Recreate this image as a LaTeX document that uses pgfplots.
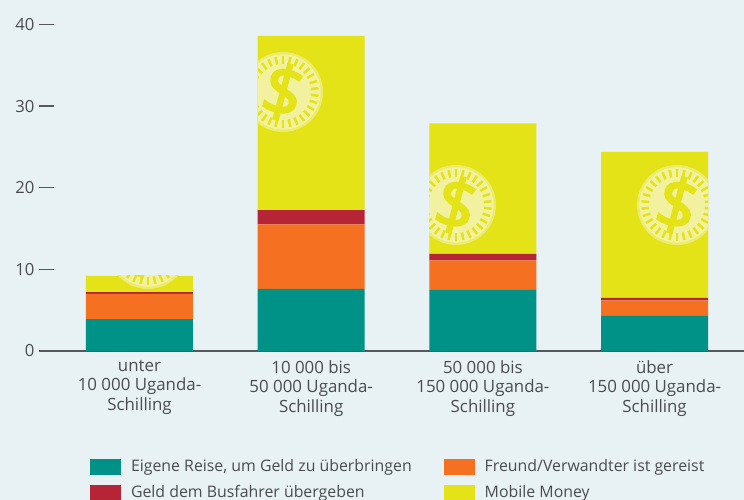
\documentclass[border=0pt]{standalone}
\usepackage{fontspec}
\setmainfont{Open Sans}
\newfontfamily\coinfont[FakeBold=3]{Open Sans}
\usepackage{pgfplots}
\pgfplotsset{compat=1.18}
\definecolor{bg}{HTML}{E8F1F4}
\definecolor{cgreen}{HTML}{009286}
\definecolor{corange}{HTML}{F57021}
\definecolor{cred}{HTML}{B62536}
\definecolor{cyellow}{HTML}{E3E317}
\definecolor{cpale}{HTML}{F1F1A0}
\definecolor{cring}{HTML}{ECEC6A}
\definecolor{txt}{HTML}{4A4D50}
\definecolor{gridc}{HTML}{BFC8CC}
\definecolor{basec}{HTML}{55595C}
\newcommand{\coin}[6]{% cx cy, clip l t r b in px
  \begin{scope}
    \clip (#3*0.75pt,375pt-#4*0.75pt) rectangle (#5*0.75pt,375pt-#6*0.75pt);
    \begin{scope}[shift={(#1*0.75pt,375pt-#2*0.75pt)}]
      \fill[cring] (0,0) circle (30pt);
      \fill[cpale] (0,0) circle (28.3pt);
      \foreach \a in {0,12,...,348}{
        \draw[cyellow,line width=1.9pt,rotate=\a+6] (21pt,0) -- (26.8pt,0);
      }
      \node[rotate=-15,text=cyellow,inner sep=0pt,font=\coinfont\fontsize{52}{52}\selectfont] at (0,0) {\$};
    \end{scope}
  \end{scope}}
\begin{document}
\begin{tikzpicture}[x=1pt,y=1pt]
\clip (0,0) rectangle (558pt,375pt);
\fill[bg] (0,0) rectangle (558pt,375pt);
\begin{axis}[
  anchor=south west, at={(40.5pt,111.75pt)},
  scale only axis, width=517.5pt, height=244.875pt,
  ybar stacked, bar width=80.25pt,
  xmin=-0.498, xmax=3.521, ymin=0, ymax=40,
  axis x line*=bottom, axis y line=none,
  ytick={0,10,20,30,40},
  ymajorgrids, grid style={draw=gridc,line width=0.8pt},
  xtick={0,1,2,3},
  xticklabels={unter\\10 000 Uganda-\\Schilling,10 000 bis\\50 000 Uganda-\\Schilling,50 000 bis\\150 000 Uganda-\\Schilling,über\\150 000 Uganda-\\Schilling},
  x tick label style={align=center,font=\fontsize{12.65}{14.6}\selectfont,text=txt,yshift=-3.5pt},
  major x tick style={draw=none},
  x axis line style={draw=basec,line width=0.9pt,-},
  clip=false,
  legend columns=2,
  legend style={at={(axis description cs:0.0522,-0.3308)},anchor=north west,draw=none,fill=none,inner sep=0pt,outer sep=0pt,
    font=\fontsize{11.9}{13}\selectfont,text=txt,
    nodes={inner sep=0pt,anchor=west,text height=7.5pt,text depth=1.5pt},
    /tikz/every even column/.append style={column sep=24pt},
    /tikz/every odd column/.append style={column sep=7.5pt},
    row sep=7.5pt},
  legend cell align=left,
  legend image code/.code={\fill[#1] (0pt,-6pt) rectangle (23.25pt,6pt);},
]
\addplot[fill=cgreen,draw=none] coordinates {(0,3.9)(1,7.6)(2,7.5)(3,4.3)};
\addplot[fill=corange,draw=none] coordinates {(0,3.1)(1,7.9)(2,3.6)(3,1.9)};
\addplot[fill=cred,draw=none] coordinates {(0,0.2)(1,1.75)(2,0.8)(3,0.3)};
\addplot[fill=cyellow,draw=none] coordinates {(0,2.0)(1,21.35)(2,16.0)(3,17.9)};
\legend{{Eigene Reise, um Geld zu überbringen},Freund/Verwandter ist gereist,Geld dem Busfahrer übergeben,Mobile Money}
\end{axis}
\foreach \v/\py in {0/351,10/269.4,20/187.8,30/106.1,40/24.5}{
  \draw[basec,line width=0.9pt] (29.25pt,375pt-\py*0.75pt) -- (40.5pt,375pt-\py*0.75pt);
  \node[anchor=east,inner sep=0pt,text=txt,font=\fontsize{12.5}{14}\selectfont] at (26pt,375pt-\py*0.75pt) {\v};
}
\coin{148}{249}{86}{276}{193}{293}
\coin{283}{92}{258}{35.5}{365}{210}
\coin{456}{205}{429}{123}{536}{254}
\coin{677}{205}{601}{152}{708}{298}
\end{tikzpicture}
\end{document}
